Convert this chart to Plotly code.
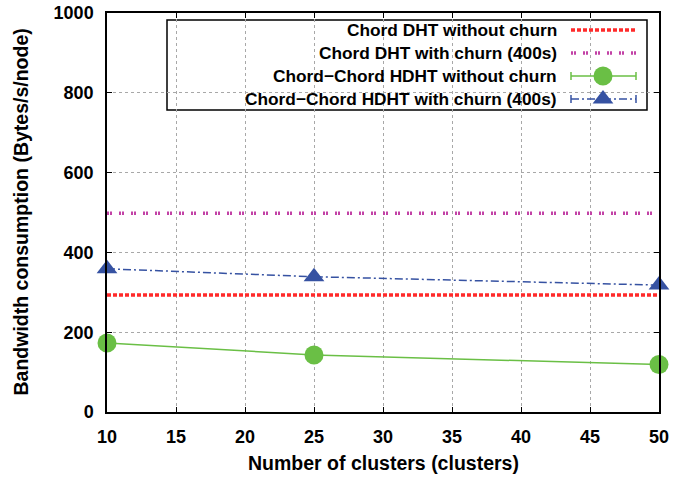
import plotly.graph_objects as go

# ---- data ----
clusters = [10, 25, 50]
dht_no_churn = [293, 293, 293]
dht_churn = [498, 498, 498]
hdht_no_churn = [173, 143, 119]
hdht_churn = [359, 339, 318]

x_ticks = [10, 15, 20, 25, 30, 35, 40, 45, 50]
y_ticks = [0, 200, 400, 600, 800, 1000]

names = [
    "Chord DHT without churn",
    "Chord DHT with churn (400s)",
    "Chord\u2212Chord HDHT without churn",
    "Chord\u2212Chord HDHT with churn (400s)",
]
x_title = "Number of clusters (clusters)"
y_title = "Bandwidth consumption (Bytes/s/node)"

RED = "#ff2a2a"
MAG = "#c242a6"
GREEN = "#6abf45"
BLUE = "#3652a2"
FONT = "Liberation Sans"

fig = go.Figure()

fig.add_trace(go.Scatter(x=clusters, y=dht_no_churn, mode="lines", cliponaxis=False,
                         line=dict(color=RED, width=3.5, dash="4px,2px"), showlegend=False))
fig.add_trace(go.Scatter(x=clusters, y=dht_churn, mode="lines", cliponaxis=False,
                         line=dict(color=MAG, width=3.5, dash="2px,1px,2px,7px"), showlegend=False))
fig.add_trace(go.Scatter(x=clusters, y=hdht_no_churn, mode="lines+markers", cliponaxis=False,
                         line=dict(color=GREEN, width=1.5),
                         marker=dict(symbol="circle", size=19, color=GREEN), showlegend=False))
fig.add_trace(go.Scatter(x=clusters, y=hdht_churn, mode="lines+markers", cliponaxis=False,
                         line=dict(color=BLUE, width=1.5, dash="8px,3px,2px,3px"),
                         marker=dict(symbol="triangle-up", size=18, color=BLUE), showlegend=False))

# ---- custom gnuplot-style legend (overlay axes in pixel units) ----
L, R, T, B = 107, 659, 13, 412
rows = [30, 53, 76, 99]
sx0, sx1, smid = 571, 636, 603
styles = [
    dict(line=dict(color=RED, width=3.5, dash="4px,2px")),
    dict(line=dict(color=MAG, width=3.5, dash="2px,1px,2px,7px")),
    dict(line=dict(color=GREEN, width=1.5)),
    dict(line=dict(color=BLUE, width=1.5, dash="8px,3px,2px,3px")),
]
for i, (ry, st) in enumerate(zip(rows, styles)):
    fig.add_trace(go.Scatter(x=[sx0, sx1], y=[ry, ry], mode="lines", xaxis="x2", yaxis="y2",
                             showlegend=False, hoverinfo="skip", **st))
    if i >= 2:
        col = GREEN if i == 2 else BLUE
        for cx in (sx0, sx1):
            fig.add_trace(go.Scatter(x=[cx, cx], y=[ry - 4, ry + 4], mode="lines", xaxis="x2", yaxis="y2",
                                     line=dict(color=col, width=1.5), showlegend=False, hoverinfo="skip"))
        fig.add_trace(go.Scatter(x=[smid], y=[ry], mode="markers", xaxis="x2", yaxis="y2",
                                 marker=dict(symbol="circle" if i == 2 else "triangle-up", size=19 if i == 2 else 18,
                                             color=col), showlegend=False, hoverinfo="skip"))
    fig.add_annotation(x=559, y=ry, xref="x2", yref="y2", text=names[i], showarrow=False,
                       xanchor="right", yanchor="middle",
                       font=dict(family=FONT, size=17.3, color="black", weight="bold"))

fig.add_shape(type="rect", xref="x2", yref="y2", x0=167, x1=647, y0=20, y1=110,
              line=dict(color="black", width=1.5), fillcolor="white", layer="below")

# axis titles
fig.add_annotation(x=0.5, y=0, xref="paper", yref="paper", yanchor="middle", yshift=-51,
                   text=x_title, showarrow=False,
                   font=dict(family=FONT, size=19.5, color="black", weight="bold"))
fig.add_annotation(x=0, y=0.5, xref="paper", yref="paper", xanchor="center", xshift=-87,
                   text=y_title, showarrow=False, textangle=-90,
                   font=dict(family=FONT, size=19.5, color="black", weight="bold"))

axis_common = dict(showline=True, linecolor="black", linewidth=1.5, mirror="ticks",
                   ticks="inside", ticklen=5, tickcolor="black", tickwidth=1,
                   showgrid=True, gridcolor="#a8a8a8", griddash="dot", gridwidth=1,
                   zeroline=False, automargin=False,
                   tickfont=dict(family=FONT, size=18, color="black", weight="bold"))

fig.update_layout(
    width=673, height=477,
    margin=dict(l=L, r=673 - R, t=T, b=477 - B),
    plot_bgcolor="white", paper_bgcolor="white",
    xaxis=dict(range=[10, 50], tickvals=x_ticks, ticklabelstandoff=8, **axis_common),
    yaxis=dict(range=[0, 1000], tickvals=y_ticks, ticklabelstandoff=8, **axis_common),
    xaxis2=dict(overlaying="x", range=[L, R], visible=False, fixedrange=True),
    yaxis2=dict(overlaying="y", range=[B, T], visible=False, fixedrange=True),
)

fig.write_html("out.html", config={"displayModeBar": False},
               post_script="document.body.style.margin='0';")
